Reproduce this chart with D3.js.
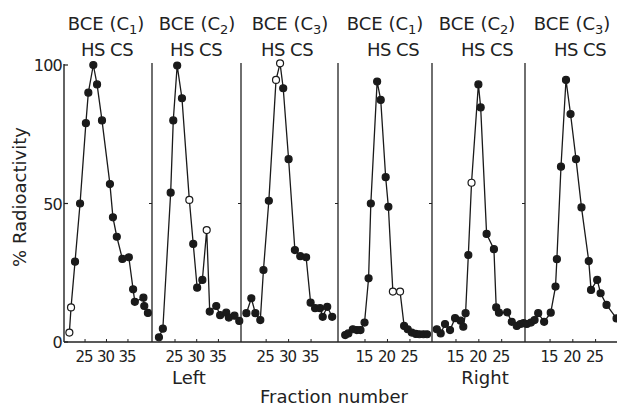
<!DOCTYPE html>
<html>
<head>
<meta charset="utf-8">
<script src="https://cdn.jsdelivr.net/npm/d3@7"></script>
<style>
  body { margin: 0; background: #fff; }
  svg { display: block; }
  text { font-family: "DejaVu Sans", sans-serif; fill: #222; }
</style>
</head>
<body>
<svg id="chart" width="617" height="407"></svg>
<script>
// Panel labels
const panelNames = ["BCE (C", "BCE (C", "BCE (C", "BCE (C", "BCE (C", "BCE (C"];
const panelSubs = ["1", "2", "3", "1", "2", "3"];
const sideLabels = ["Left", "Right"];

// Fraction range shown by each panel (axis domains)
const panelDomains = [
    [20.1, 40.6], [19.7, 40.2], [19.4, 41.0],
    [9.0, 29.9], [9.75, 30.1], [9.5, 29.7]
];
const leftTicks = [25, 30, 35];
const rightTicks = [15, 20, 25];
const yTicks = [0, 50, 100];

// [fraction, % radioactivity]
const p1Data = [
    [21.35, 3.4], [21.74, 12.5], [22.67, 29], [23.84, 50], [25.2, 79], [25.77, 90],
    [26.93, 100], [27.8, 93], [28.95, 80], [30.8, 57], [31.5, 45], [32.4, 38],
    [33.7, 30], [35.2, 30.6], [36.2, 19], [36.6, 14.5], [38.6, 16], [38.8, 13], [39.65, 10.5]
];
const p2Data = [
    [21.3, 1.7], [22.2, 4.8], [24.0, 53.9], [24.6, 80], [25.5, 99.8], [26.6, 88],
    [28.3, 51.3], [29.2, 35.4], [30.1, 19.6], [31.3, 22.4], [32.3, 40.4], [33.0, 11],
    [34.5, 13], [35.4, 9.7], [36.8, 10.6], [37.4, 8.8], [38.7, 9.5], [39.8, 7.6]
];
const p3Data = [
    [20.6, 10.4], [21.7, 15.8], [22.6, 10.4], [23.7, 7.9], [24.4, 26], [25.6, 51],
    [27.2, 94.6], [28.1, 100.6], [28.8, 91.6], [30.0, 66], [31.4, 33.2], [32.6, 31],
    [33.9, 30.6], [34.9, 14.2], [35.9, 12.2], [37.0, 12.2], [37.6, 9.1], [38.6, 12.7], [39.7, 9.1]
];
const p4Data = [
    [10.6, 2.5], [11.3, 3.1], [12.3, 4.6], [13.2, 4.3], [14.0, 4.3], [14.9, 7],
    [15.8, 23], [16.3, 50], [17.7, 94], [18.5, 87.4], [19.6, 59.5], [20.2, 48.8],
    [21.2, 18.2], [22.8, 18.2], [23.7, 5.8], [24.5, 4.6], [25.4, 3.4], [26.3, 2.9],
    [27.1, 2.8], [28.0, 2.8], [28.8, 2.8]
];
const p5Data = [
    [10.8, 4.6], [11.65, 3.1], [12.6, 6.5], [13.7, 4.3], [14.8, 8.6], [16.0, 7.7],
    [16.6, 5.5], [17.1, 10.4], [17.7, 31.4], [18.4, 57.5], [19.9, 93], [20.4, 84.7],
    [21.7, 39], [23.3, 33.5], [23.8, 12.5], [24.4, 10.6], [26.2, 10.7], [27.2, 7.3],
    [28.3, 5.8], [29.1, 6.5], [29.8, 6.8]
];
const p6Data = [
    [9.9, 6.5], [10.8, 7], [11.6, 7.9], [12.4, 10.4], [13.7, 7.3], [15.15, 10.6],
    [16.2, 20], [16.5, 29.9], [17.4, 63.3], [18.5, 94.6], [19.5, 82.3], [20.7, 66],
    [21.9, 48.6], [23.5, 29.2], [24.0, 18.8], [25.35, 22.4], [26.1, 17.6], [27.4, 13.4], [29.6, 8.5]
];
const panelData = [p1Data, p2Data, p3Data, p4Data, p5Data, p6Data];
// indices of points drawn as open circles
const openPoints = [[0, 1], [6, 10], [6, 7], [12, 13], [9], []];

// layout
const edges = [64, 152, 241, 338, 432, 525, 617];
const baseY = 342, topY = 64;
const titleX1 = [106, 197, 290, 385, 477, 572];
const titleX2 = [107, 196, 287, 393, 487, 580];

const svg = d3.select("#chart");
const y = d3.scaleLinear().domain([0, 100]).range([baseY, 65]);

// baseline
svg.append("line")
    .attr("x1", edges[0]).attr("x2", edges[6])
    .attr("y1", baseY).attr("y2", baseY)
    .attr("stroke", "#222").attr("stroke-width", 1.4);

// left y axis
svg.append("line")
    .attr("x1", edges[0]).attr("x2", edges[0])
    .attr("y1", topY).attr("y2", baseY)
    .attr("stroke", "#222").attr("stroke-width", 1.4);

svg.selectAll(".ytick").data(yTicks).enter().append("line")
    .attr("x1", edges[0]).attr("x2", edges[0] + 4)
    .attr("y1", d => y(d)).attr("y2", d => y(d))
    .attr("stroke", "#222").attr("stroke-width", 1.2);

svg.selectAll(".ylab").data(yTicks).enter().append("text")
    .attr("x", edges[0] - 2)
    .attr("y", d => y(d) + 6)
    .attr("text-anchor", "end")
    .attr("font-size", 16)
    .attr("letter-spacing", -0.8)
    .text(d => d);

svg.append("text")
    .attr("transform", "translate(26,197) rotate(-90)")
    .attr("text-anchor", "middle")
    .attr("font-size", 18)
    .text("% Radioactivity");

panelData.forEach((data, i) => {
    const x = d3.scaleLinear().domain(panelDomains[i]).range([edges[i], edges[i + 1]]);
    const ticks = i < 3 ? leftTicks : rightTicks;

    // panel separator
    if (i > 0) {
        svg.append("line")
            .attr("x1", edges[i]).attr("x2", edges[i])
            .attr("y1", topY - 1).attr("y2", baseY)
            .attr("stroke", "#222").attr("stroke-width", 1.3);
        svg.append("line")
            .attr("x1", edges[i] - 3).attr("x2", edges[i])
            .attr("y1", y(50)).attr("y2", y(50))
            .attr("stroke", "#222").attr("stroke-width", 1);
    }

    // x ticks
    svg.selectAll(".xt" + i).data(ticks).enter().append("line")
        .attr("x1", d => x(d)).attr("x2", d => x(d))
        .attr("y1", baseY).attr("y2", baseY - 3)
        .attr("stroke", "#222").attr("stroke-width", 1);
    svg.selectAll(".xl" + i).data(ticks).enter().append("text")
        .attr("x", d => x(d) - 1)
        .attr("y", baseY + 20)
        .attr("text-anchor", "middle")
        .attr("font-size", 15)
        .attr("letter-spacing", -1)
        .text(d => d);

    // titles
    const t = svg.append("text")
        .attr("x", titleX1[i]).attr("y", 30)
        .attr("text-anchor", "middle")
        .attr("font-size", 18);
    t.append("tspan").text(panelNames[i]);
    t.append("tspan").attr("dy", 4).attr("font-size", 13).text(panelSubs[i]);
    t.append("tspan").attr("dy", -4).text(")");

    svg.append("text")
        .attr("x", titleX2[i]).attr("y", 56)
        .attr("text-anchor", "middle")
        .attr("font-size", 18)
        .attr("letter-spacing", -0.5)
        .text("HS CS");

    // curve
    const line = d3.line().x(d => x(d[0])).y(d => y(d[1]));
    svg.append("path")
        .datum(data)
        .attr("d", line)
        .attr("fill", "none")
        .attr("stroke", "#1a1a1a")
        .attr("stroke-width", 1.3);

    svg.selectAll(".pt" + i).data(data).enter().append("circle")
        .attr("cx", d => x(d[0]))
        .attr("cy", d => y(d[1]))
        .attr("r", 3.5)
        .attr("fill", (d, j) => openPoints[i].includes(j) ? "#fff" : "#1a1a1a")
        .attr("stroke", "#1a1a1a")
        .attr("stroke-width", 1.2);
});

// side labels and axis title
svg.append("text").attr("x", 189).attr("y", 384)
    .attr("text-anchor", "middle").attr("font-size", 18).text(sideLabels[0]);
svg.append("text").attr("x", 485).attr("y", 384)
    .attr("text-anchor", "middle").attr("font-size", 18).text(sideLabels[1]);
svg.append("text").attr("x", 334).attr("y", 403)
    .attr("text-anchor", "middle").attr("font-size", 18).text("Fraction number");
</script>
</body>
</html>
